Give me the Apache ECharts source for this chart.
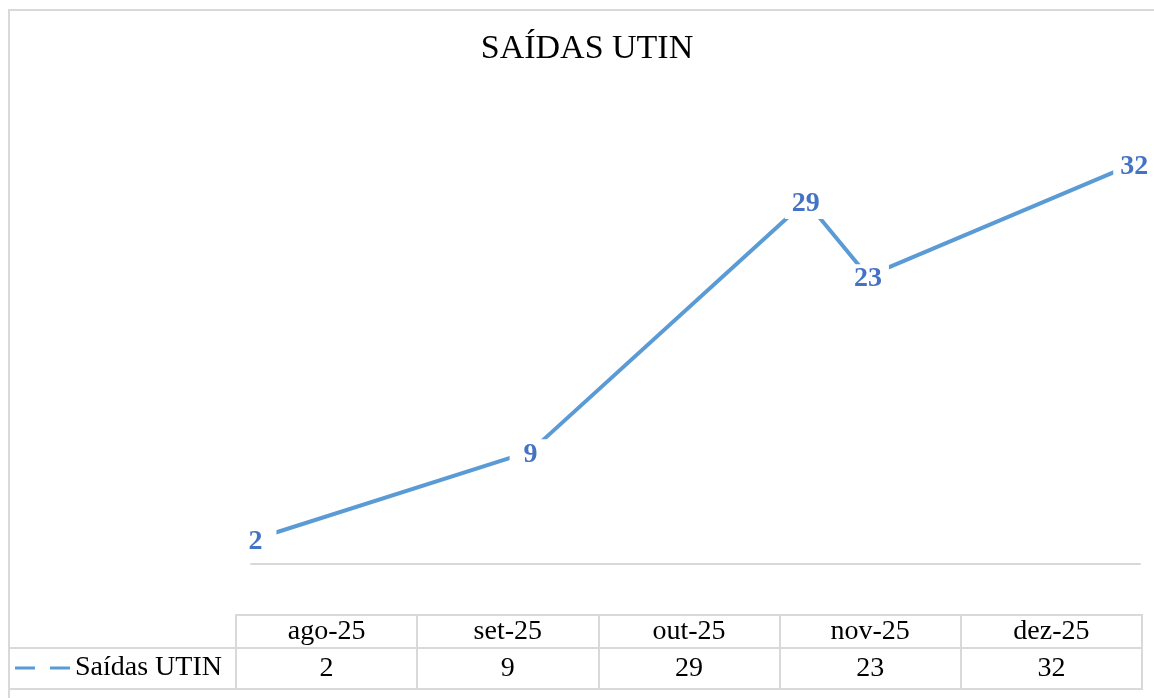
<!DOCTYPE html>
<html>
<head>
<meta charset="utf-8">
<title>SAÍDAS UTIN</title>
<script src="https://cdn.jsdelivr.net/npm/echarts@6/dist/echarts.min.js"></script>
<style>
  html, body { margin: 0; padding: 0; background: #fff; }
  #chart { width: 1154px; height: 698px; }
</style>
</head>
<body>
<div id="chart"></div>
<script>
// dados
var meses = ['ago-25', 'set-25', 'out-25', 'nov-25', 'dez-25']
var datas = ['2025-08-24', '2025-09-24', '2025-10-25', '2025-11-01', '2025-12-01']
var saidas = [2, 9, 29, 23, 32]

var serif = '"Liberation Serif", "Times New Roman", serif'
var borda = '#d9d9d9'
var DIA = 24 * 3600 * 1000

var chart = echarts.init(document.getElementById('chart'))

function linhaTabela(grid, labels, margin) {
  return {
    type: 'category',
    gridIndex: grid,
    position: 'top',
    data: labels,
    axisLine: { show: false },
    axisTick: { show: false },
    splitLine: { show: true, interval: 0, lineStyle: { color: borda, width: 2 } },
    axisLabel: {
      interval: 0,
      margin: margin,
      verticalAlign: 'middle',
      fontSize: 28,
      fontFamily: serif,
      color: '#000'
    }
  }
}

var option = {
  animation: false,
  title: {
    text: 'SAÍDAS UTIN',
    left: 582,
    top: 27,
    textAlign: 'center',
    textStyle: { fontFamily: serif, fontSize: 34, fontWeight: 'normal', color: '#000' }
  },
  legend: {
    left: 15,
    top: 654,
    padding: 0,
    itemWidth: 55,
    itemHeight: 3,
    icon: 'path://M0,0h20v3h-20z M35,0h20v3h-20z',
    textStyle: { fontFamily: serif, fontSize: 28, color: '#000' },
    data: ['Saídas UTIN']
  },
  grid: [
    { left: 251, width: 889, top: 126, height: 438 },
    { left: 236, width: 906, top: 615, height: 33, show: true, borderColor: borda, borderWidth: 2 },
    { left: 236, width: 906, top: 648, height: 41, show: true, borderColor: borda, borderWidth: 2 }
  ],
  xAxis: [
    {
      type: 'time',
      gridIndex: 0,
      min: function (v) { return v.min - 0.5 * DIA },
      max: function (v) { return v.max + 0.65 * DIA },
      axisLine: { show: true, lineStyle: { color: borda, width: 2 } },
      axisTick: { show: false },
      axisLabel: { show: false },
      splitLine: { show: false }
    },
    linhaTabela(1, meses, -16.5),
    linhaTabela(2, saidas.map(String), -20.5)
  ],
  yAxis: [
    { type: 'value', gridIndex: 0, min: 0, max: 35, show: false },
    { type: 'value', gridIndex: 1, show: false },
    { type: 'value', gridIndex: 2, show: false }
  ],
  graphic: [
    {
      type: 'rect',
      shape: { x: 9, y: 10, width: 1200, height: 800 },
      style: { fill: 'none', stroke: borda, lineWidth: 2 },
      silent: true
    },
    {
      type: 'rect',
      shape: { x: 9, y: 648, width: 227, height: 41 },
      style: { fill: 'none', stroke: borda, lineWidth: 2 },
      silent: true
    }
  ],
  series: [
    {
      name: 'Saídas UTIN',
      type: 'line',
      xAxisIndex: 0,
      yAxisIndex: 0,
      data: datas.map(function (d, i) { return [d, saidas[i]] }),
      symbol: 'circle',
      symbolSize: 2,
      itemStyle: { color: '#5b9bd5' },
      lineStyle: { color: '#5b9bd5', width: 4 },
      label: {
        show: true,
        position: 'inside',
        offset: [0, 3],
        width: 42,
        height: 30,
        lineHeight: 30,
        align: 'center',
        backgroundColor: '#fff',
        fontFamily: serif,
        fontSize: 28,
        fontWeight: 'bold',
        color: '#4472c4'
      }
    }
  ]
}

chart.setOption(option)
</script>
</body>
</html>
